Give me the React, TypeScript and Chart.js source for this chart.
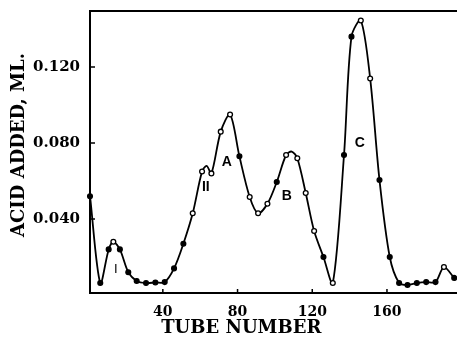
import React, { useEffect, useRef } from 'react';
import { Chart, registerables } from 'chart.js';

Chart.register(...registerables);

const tubeNumbers = [1, 6.5, 11, 13.5, 17, 21.5, 26, 31, 36, 41, 46, 51, 56, 61, 63.5, 66, 71, 76, 81, 86.5, 91, 96, 101, 106, 109, 112, 116.5, 121, 126, 131, 137, 141, 146, 151, 156, 161.5, 166.5, 171, 176, 181, 186, 190.5, 196];
const acidAdded = [0.052, 0.0063, 0.024, 0.028, 0.024, 0.012, 0.0074, 0.0063, 0.0066, 0.0068, 0.014, 0.027, 0.043, 0.065, 0.068, 0.064, 0.086, 0.095, 0.073, 0.0516, 0.043, 0.048, 0.0595, 0.0737, 0.0755, 0.072, 0.0537, 0.0337, 0.02, 0.0063, 0.0737, 0.136, 0.1445, 0.114, 0.0605, 0.02, 0.0063, 0.0053, 0.0063, 0.0068, 0.0068, 0.0147, 0.009];
const markerKinds = ['f', 'f', 'f', 'o', 'f', 'f', 'f', 'f', 'f', 'f', 'f', 'f', 'o', 'o', '', 'o', 'o', 'o', 'f', 'o', 'o', 'o', 'f', 'o', '', 'o', 'o', 'o', 'f', 'o', 'f', 'f', 'o', 'o', 'f', 'f', 'f', 'f', 'f', 'f', 'f', 'o', 'f'];

const xTickValues = [40, 80, 120, 160];
const yTickValues = [0.04, 0.08, 0.12];

const peakNames = ['I', 'II', 'A', 'B', 'C'];
const peakNameX = [14.8, 63, 74.3, 106.4, 145.5];
const peakNameY = [0.0135, 0.057, 0.07, 0.052, 0.08];

const xTitle = 'TUBE NUMBER';
const yTitle = 'ACID ADDED, ML.';
const SERIF = '"DejaVu Serif", serif';

const decor = {
  id: 'decor',
  afterDatasetsDraw(chart: any) {
    const { ctx, chartArea: a, scales } = chart;
    const x = scales.x;
    const y = scales.y;
    ctx.save();
    ctx.strokeStyle = '#000';
    ctx.lineWidth = 2;
    ctx.beginPath();
    ctx.moveTo(a.left - 1, a.top);
    ctx.lineTo(a.right, a.top);
    ctx.stroke();
    ctx.lineWidth = 1.5;
    ctx.beginPath();
    yTickValues.forEach((v) => {
      const py = y.getPixelForValue(v);
      ctx.moveTo(a.left, py);
      ctx.lineTo(a.left + 5, py);
    });
    xTickValues.forEach((v) => {
      const px = x.getPixelForValue(v);
      ctx.moveTo(px, a.bottom);
      ctx.lineTo(px, a.bottom - 4);
    });
    ctx.stroke();
    ctx.fillStyle = '#000';
    ctx.textAlign = 'center';
    ctx.textBaseline = 'middle';
    peakNames.forEach((t, i) => {
      ctx.font = t === 'I' ? '13px "Liberation Sans", Arial, sans-serif' : 'bold 14px "Liberation Sans", Arial, sans-serif';
      ctx.fillText(t, x.getPixelForValue(peakNameX[i]), y.getPixelForValue(peakNameY[i]));
    });
    ctx.font = 'bold 18px ' + SERIF;
    ctx.fillText(xTitle, x.getPixelForValue(82), a.bottom + 35);
    ctx.save();
    ctx.translate(19, a.top + (a.bottom - a.top) / 2 - 7);
    ctx.rotate(-Math.PI / 2);
    ctx.fillText(yTitle, 0, 0);
    ctx.restore();
    ctx.restore();
  },
};

export default function App() {
  const ref = useRef<HTMLCanvasElement | null>(null);
  useEffect(() => {
    document.body.style.margin = '0';
    const canvas = ref.current;
    if (!canvas) return;
    const points = tubeNumbers.map((t, i) => ({ x: t, y: acidAdded[i] }));
    const chart = new Chart(canvas, {
      type: 'line',
      data: {
        datasets: [
          {
            data: points,
            borderColor: '#000',
            borderWidth: 1.8,
            tension: 0.3,
            pointRadius: markerKinds.map((k) => (k ? 2.4 : 0)),
            pointBackgroundColor: markerKinds.map((k) => (k === 'o' ? '#fff' : '#000')),
            pointBorderColor: '#000',
            pointBorderWidth: 1.3,
            fill: false,
            clip: 6,
          },
        ],
      },
      options: {
        animation: false,
        responsive: true,
        maintainAspectRatio: false,
        layout: { autoPadding: false, padding: { top: 11, right: 0, left: 0, bottom: 0 } },
        plugins: { legend: { display: false }, tooltip: { enabled: false } },
        scales: {
          x: {
            type: 'linear',
            min: 1,
            max: 197.5,
            grid: { display: false, drawTicks: false },
            border: { display: true, color: '#000', width: 2 },
            afterBuildTicks: (s: any) => {
              s.ticks = xTickValues.map((v) => ({ value: v }));
            },
            afterFit: (s: any) => {
              s.height = 48;
              s.paddingLeft = 0;
              s.paddingRight = 0;
            },
            ticks: {
              autoSkip: false,
              maxRotation: 0,
              padding: 11,
              color: '#000',
              font: { family: SERIF, weight: 'bold', size: 14 },
              callback: (v: any) => String(v),
            },
            title: { display: false },
          },
          y: {
            type: 'linear',
            min: 0.00105,
            max: 0.1495,
            grid: { display: false, drawTicks: false },
            border: { display: true, color: '#000', width: 2 },
            afterBuildTicks: (s: any) => {
              s.ticks = yTickValues.map((v) => ({ value: v }));
            },
            afterFit: (s: any) => {
              s.width = 90;
              s.paddingTop = 0;
              s.paddingBottom = 0;
            },
            ticks: {
              padding: 10,
              color: '#000',
              font: { family: SERIF, weight: 'bold', size: 15 },
              callback: (v: any) => Number(v).toFixed(3),
            },
            title: { display: false },
          },
        },
      },
      plugins: [decor],
    });
    return () => chart.destroy();
  }, []);
  return (
    <div style={{ width: 457, height: 341, position: 'relative', background: '#fff' }}>
      <canvas ref={ref} />
    </div>
  );
}
